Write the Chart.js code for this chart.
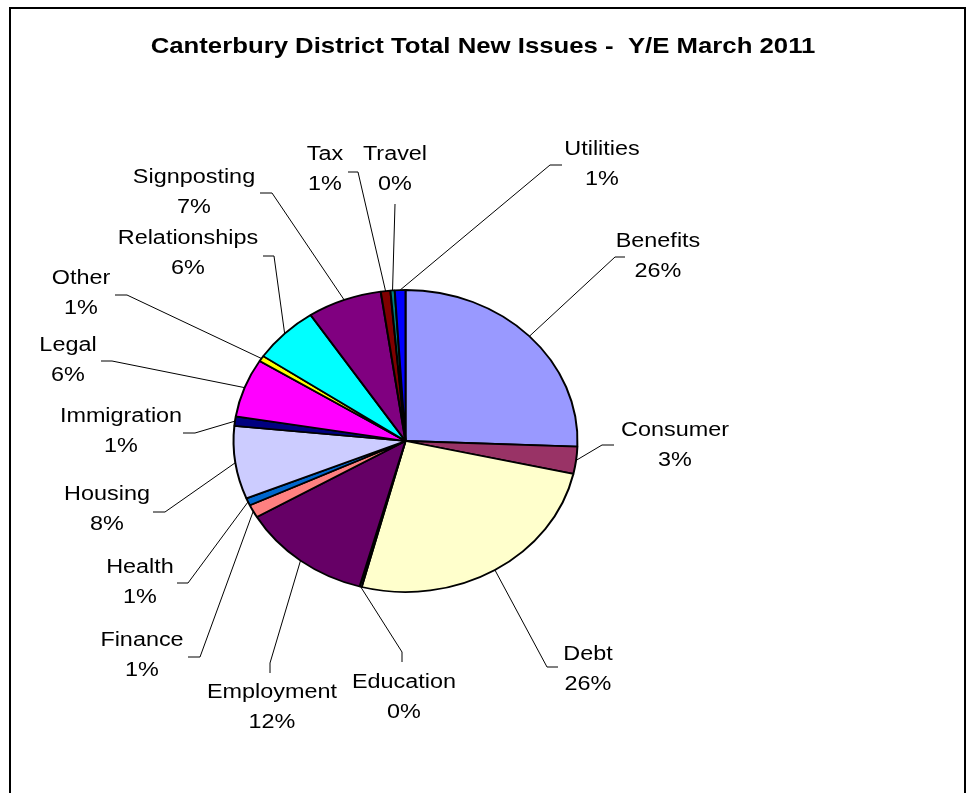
<!DOCTYPE html>
<html lang="en">
<head>
<meta charset="UTF-8">
<title>Canterbury District Total New Issues</title>
<style>
  html, body { margin: 0; padding: 0; background: #fff; }
  #wrap { position: relative; width: 968px; height: 793px; }
</style>
</head>
<body>
<div id="wrap"><canvas id="pie" width="968" height="793"></canvas></div>

<script src="https://cdn.jsdelivr.net/npm/chart.js@4.4.0/dist/chart.umd.min.js"></script>
<script>
// data (share of new issues, %)
const categories = ['Benefits', 'Consumer', 'Debt', 'Education', 'Employment', 'Finance', 'Health',
  'Housing', 'Immigration', 'Legal', 'Other', 'Relationships', 'Signposting', 'Tax', 'Travel', 'Utilities'];
const shares = [25.6, 2.9, 25.6, 0.2, 12.3, 1.4, 0.8, 7.8, 1.0, 6.3, 0.6, 6.2, 7.0, 0.9, 0.4, 1.0];
const sliceColors = ['#9999FF', '#993366', '#FFFFCC', '#CCFFFF', '#660066', '#FF8080', '#0066CC',
  '#CCCCFF', '#000080', '#FF00FF', '#FFFF00', '#00FFFF', '#800080', '#800000', '#008080', '#0000FF'];
const chartTitle = 'Canterbury District Total New Issues -  Y/E March 2011';

// label placement: text centre, leader elbow, leader end
const labelLayout = [
  { tx: 658, ty: 241, ex: 615, ey: 257, lx: 625, ly: 257 },
  { tx: 675, ty: 430, ex: 602, ey: 445, lx: 614, ly: 445 },
  { tx: 588, ty: 654, ex: 547, ey: 667, lx: 558, ly: 667 },
  { tx: 404, ty: 682, ex: 402, ey: 652, lx: 402, ly: 662 },
  { tx: 272, ty: 692, ex: 270, ey: 663, lx: 270, ly: 673 },
  { tx: 142, ty: 640, ex: 200, ey: 657, lx: 188, ly: 657 },
  { tx: 140, ty: 567, ex: 188, ey: 583, lx: 177, ly: 583 },
  { tx: 107, ty: 494, ex: 165, ey: 512, lx: 153, ly: 512 },
  { tx: 121, ty: 416, ex: 195, ey: 433, lx: 183, ly: 433 },
  { tx: 68,  ty: 345, ex: 112, ey: 361, lx: 101, ly: 361 },
  { tx: 81,  ty: 278, ex: 127, ey: 295, lx: 115, ly: 295 },
  { tx: 188, ty: 238, ex: 274, ey: 256, lx: 263, ly: 256 },
  { tx: 194, ty: 177, ex: 272, ey: 193, lx: 260, ly: 193 },
  { tx: 325, ty: 154, ex: 358, ey: 172, lx: 348, ly: 172 },
  { tx: 395, ty: 154, ex: 395, ey: 204, lx: 395, ly: 204 },
  { tx: 602, ty: 149, ex: 550, ey: 165, lx: 562, ly: 165 }
];

const PIE_R = 172;
const SQUASH = 151 / 172;   // pie is drawn as an ellipse
const STRETCH = 1.17;       // text is a little wide, as in the original
const FONT = '"Liberation Sans", Arial, sans-serif';

function wideText(ctx, text, x, y) {
  ctx.save();
  ctx.translate(x, y);
  ctx.scale(STRETCH, 1);
  ctx.fillText(text, 0, 0);
  ctx.restore();
}

const excelLook = {
  id: 'excelLook',
  beforeDraw(chart) {
    const ctx = chart.ctx;
    ctx.save();
    ctx.fillStyle = '#fff';
    ctx.fillRect(0, 0, chart.width, chart.height);
    ctx.strokeStyle = '#000';
    ctx.lineWidth = 2;
    ctx.strokeRect(10, 8, 955, 800);
    ctx.fillStyle = '#000';
    ctx.font = 'bold 22px ' + FONT;
    ctx.textAlign = 'center';
    ctx.textBaseline = 'middle';
    wideText(ctx, chartTitle, 483, 47);
    ctx.restore();
  },
  beforeDatasetsDraw(chart) {
    const arc = chart.getDatasetMeta(0).data[0];
    const ctx = chart.ctx;
    ctx.save();
    ctx.translate(0, arc.y);
    ctx.scale(1, SQUASH);
    ctx.translate(0, -arc.y);
  },
  afterDatasetsDraw(chart) {
    chart.ctx.restore();
    const ctx = chart.ctx;
    const meta = chart.getDatasetMeta(0);
    const total = shares.reduce((a, b) => a + b, 0);
    ctx.save();
    ctx.strokeStyle = '#000';
    ctx.lineWidth = 1;
    ctx.fillStyle = '#000';
    ctx.font = '20px ' + FONT;
    ctx.textAlign = 'center';
    ctx.textBaseline = 'middle';
    meta.data.forEach((a, i) => {
      const mid = (a.startAngle + a.endAngle) / 2;
      const sx = a.x + a.outerRadius * Math.cos(mid);
      const sy = a.y + a.outerRadius * Math.sin(mid) * SQUASH;
      const p = labelLayout[i];
      ctx.beginPath();
      ctx.moveTo(sx, sy);
      ctx.lineTo(p.ex, p.ey);
      ctx.lineTo(p.lx, p.ly);
      ctx.stroke();
      wideText(ctx, categories[i], p.tx, p.ty);
      wideText(ctx, Math.round(shares[i] / total * 100) + '%', p.tx, p.ty + 30);
    });
    ctx.restore();
  }
};

new Chart(document.getElementById('pie'), {
  type: 'pie',
  data: {
    labels: categories,
    datasets: [{
      data: shares,
      backgroundColor: sliceColors,
      borderColor: '#000',
      borderWidth: 2,
      hoverOffset: 0
    }]
  },
  options: {
    responsive: false,
    animation: false,
    radius: PIE_R,
    layout: { padding: { left: 0, right: 157, top: 89, bottom: 0 } },
    plugins: {
      legend: { display: false },
      title: { display: false },
      tooltip: { enabled: false }
    }
  },
  plugins: [excelLook]
});
</script>
</body>
</html>
